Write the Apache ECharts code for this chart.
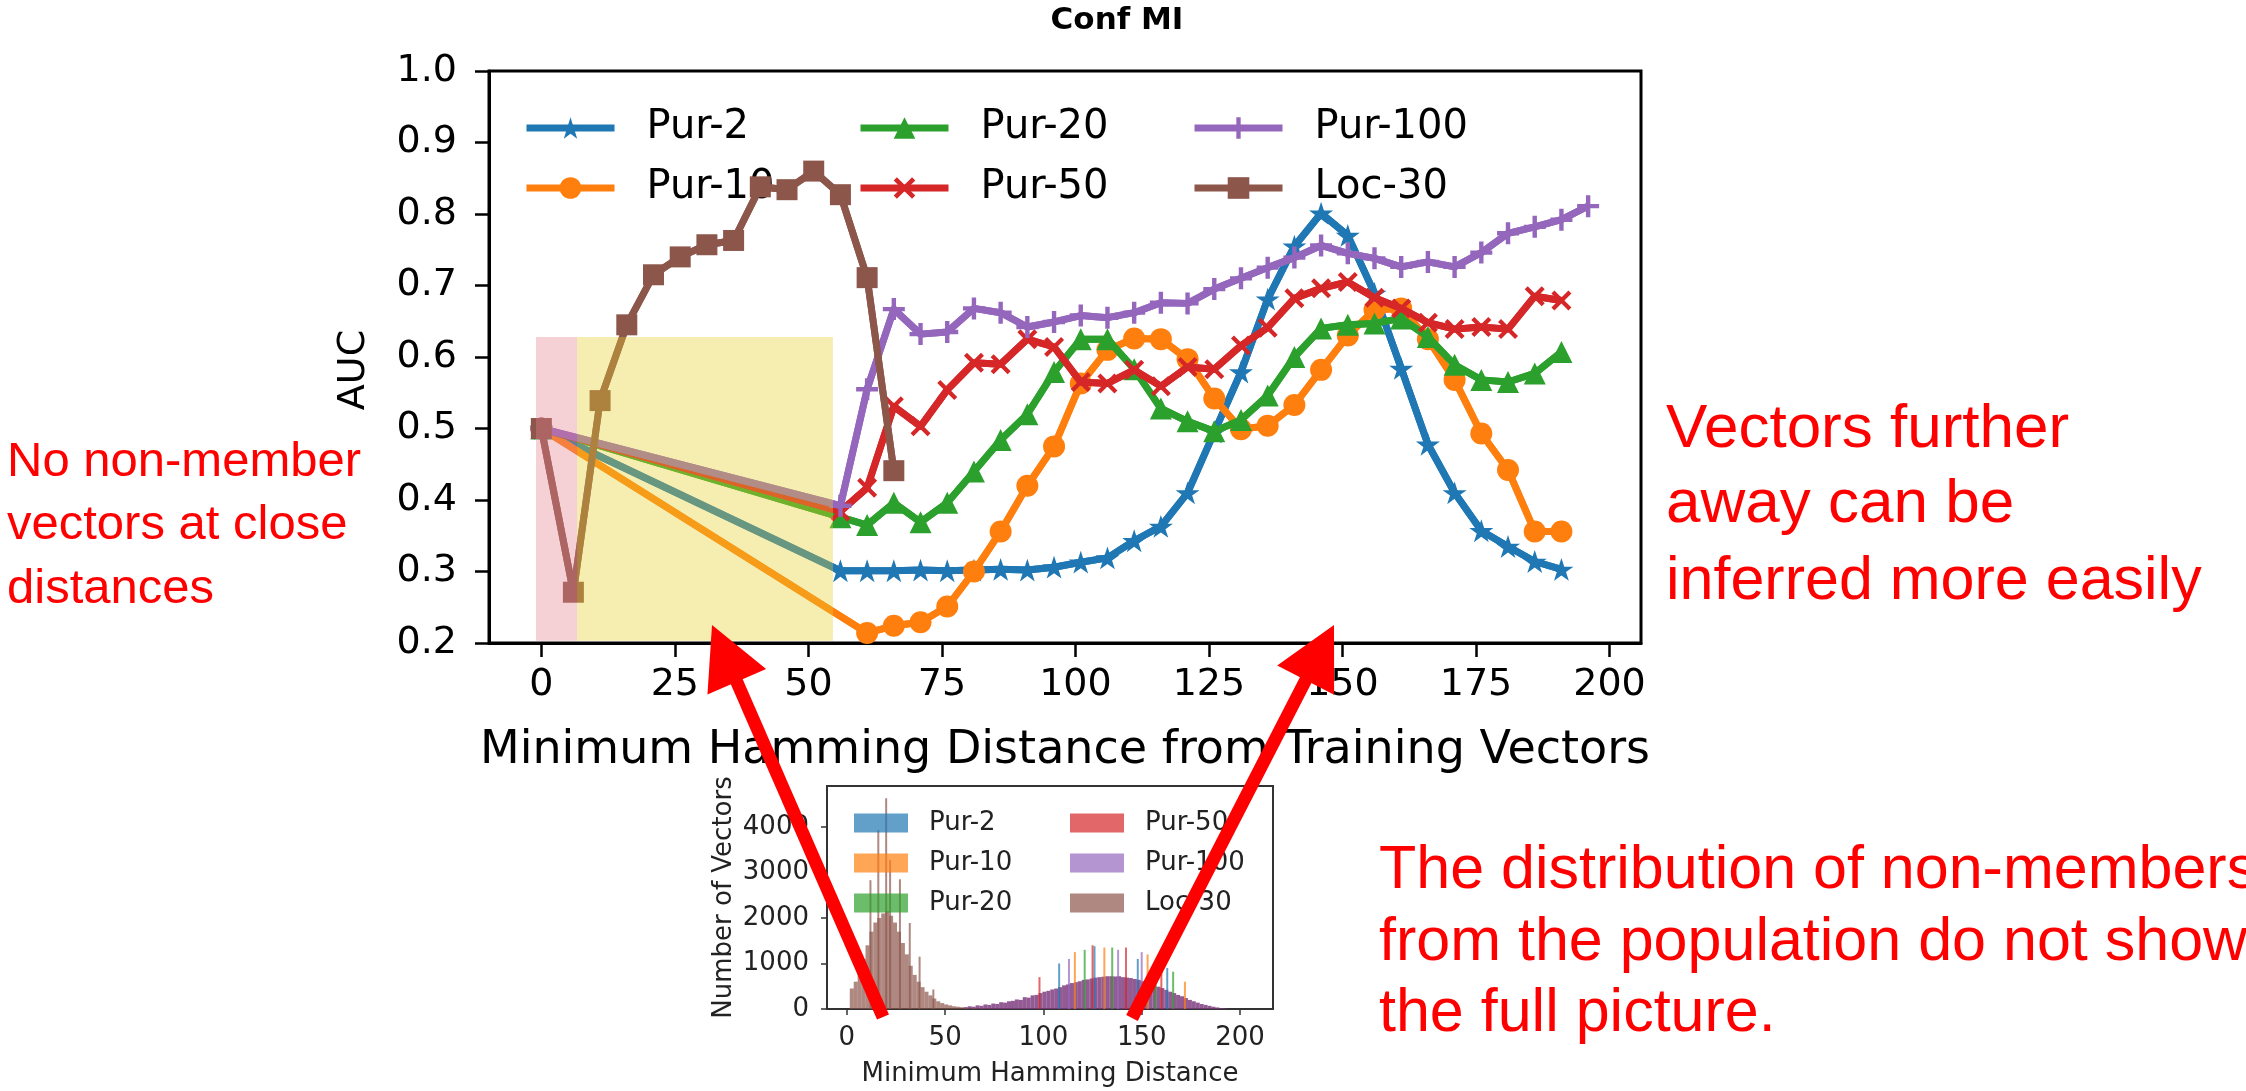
<!DOCTYPE html>
<html><head><meta charset="utf-8">
<script src="https://cdn.jsdelivr.net/npm/echarts@6/dist/echarts.min.js"></script>
<style>html,body{margin:0;padding:0;background:#fff}#c{width:2246px;height:1091px}</style>
</head><body><div id="c"></div>
<script>
// ---------------- main chart data ----------------
const xTickValues = [0, 25, 50, 75, 100, 125, 150, 175, 200];
const yTickValues = [0.2, 0.3, 0.4, 0.5, 0.6, 0.7, 0.8, 0.9, 1.0];

const distPur2 = [0, 56, 61, 66, 71, 76, 81, 86, 91, 96, 101, 106, 111, 116, 121, 126, 131, 136, 141, 146, 151, 156, 161, 166, 171, 176, 181, 186, 191];
const aucPur2 = [0.500, 0.301, 0.301, 0.301, 0.302, 0.301, 0.302, 0.303, 0.302, 0.306, 0.313, 0.319, 0.343, 0.363, 0.410, 0.495, 0.579, 0.681, 0.755, 0.801, 0.770, 0.689, 0.584, 0.478, 0.410, 0.357, 0.335, 0.314, 0.303];

const distPur10 = [0, 61, 66, 71, 76, 81, 86, 91, 96, 101, 106, 111, 116, 121, 126, 131, 136, 141, 146, 151, 156, 161, 166, 171, 176, 181, 186, 191];
const aucPur10 = [0.500, 0.214, 0.224, 0.229, 0.251, 0.300, 0.356, 0.420, 0.475, 0.563, 0.610, 0.626, 0.625, 0.597, 0.542, 0.499, 0.504, 0.533, 0.582, 0.630, 0.666, 0.668, 0.625, 0.568, 0.493, 0.442, 0.356, 0.356];

const distPur20 = [0, 56, 61, 66, 71, 76, 81, 86, 91, 96, 101, 106, 111, 116, 121, 126, 131, 136, 141, 146, 151, 156, 161, 166, 171, 176, 181, 186, 191];
const aucPur20 = [0.500, 0.376, 0.365, 0.396, 0.369, 0.396, 0.440, 0.484, 0.520, 0.579, 0.625, 0.625, 0.583, 0.528, 0.510, 0.496, 0.512, 0.546, 0.600, 0.640, 0.645, 0.647, 0.654, 0.628, 0.589, 0.568, 0.565, 0.577, 0.607];

const distPur50 = [0, 56, 61, 66, 71, 76, 81, 86, 91, 96, 101, 106, 111, 116, 121, 126, 131, 136, 141, 146, 151, 156, 161, 166, 171, 176, 181, 186, 191];
const aucPur50 = [0.500, 0.384, 0.417, 0.531, 0.503, 0.554, 0.592, 0.590, 0.625, 0.614, 0.565, 0.563, 0.582, 0.559, 0.586, 0.583, 0.616, 0.641, 0.682, 0.696, 0.705, 0.683, 0.668, 0.648, 0.639, 0.642, 0.639, 0.685, 0.679];

const distPur100 = [0, 56, 61, 66, 71, 76, 81, 86, 91, 96, 101, 106, 111, 116, 121, 126, 131, 136, 141, 146, 151, 156, 161, 166, 171, 176, 181, 186, 191, 196];
const aucPur100 = [0.500, 0.392, 0.555, 0.667, 0.632, 0.635, 0.668, 0.662, 0.642, 0.649, 0.658, 0.655, 0.662, 0.676, 0.675, 0.695, 0.710, 0.725, 0.739, 0.756, 0.745, 0.738, 0.726, 0.733, 0.726, 0.746, 0.773, 0.782, 0.792, 0.811];

const distLoc30 = [0, 6, 11, 16, 21, 26, 31, 36, 41, 46, 51, 56, 61, 66];
const aucLoc30 = [0.500, 0.271, 0.539, 0.645, 0.715, 0.740, 0.757, 0.763, 0.838, 0.834, 0.860, 0.827, 0.711, 0.441];

// shaded regions (data coordinates)
const regionPinkX = [-1.0, 6.7];
const regionYellowX = [6.7, 54.6];
const regionY = [0.203, 0.628];

// ---------------- inset histogram data ----------------
const histXTicks = [0, 50, 100, 150, 200];
const histYTicks = [0, 1000, 2000, 3000, 4000];

const histLocBins = [2, 4, 6, 8, 10, 12, 14, 16, 18, 20, 22, 24, 26, 28, 30, 32, 34, 36, 38, 40, 42, 44, 46, 48, 50, 52, 54, 56, 58, 60, 64, 68, 72];
const histLocCounts = [450, 600, 800, 1100, 1400, 1700, 1900, 2000, 2100, 2150, 2050, 1900, 1700, 1450, 1200, 950, 750, 600, 480, 380, 300, 230, 170, 130, 100, 80, 60, 50, 40, 30, 20, 15, 10];
const spikeLocBins = [12, 16, 20, 22, 27, 32, 37, 44];
const spikeLocCounts = [2830, 3930, 4630, 3270, 2850, 1890, 1150, 430];

const histPurBins = [60, 62, 64, 66, 68, 70, 72, 74, 76, 78, 80, 82, 84, 86, 88, 90, 92, 94, 96, 98, 100, 102, 104, 106, 108, 110, 112, 114, 116, 118, 120, 122, 124, 126, 128, 130, 132, 134, 136, 138, 140, 142, 144, 146, 148, 150, 152, 154, 156, 158, 160, 162, 164, 166, 168, 170, 172, 174, 176, 178, 180, 182, 184, 186, 188, 190, 192];
const histPurCounts = [40, 60, 50, 80, 70, 100, 90, 120, 110, 150, 140, 170, 180, 210, 200, 260, 250, 300, 310, 350, 380, 400, 430, 450, 480, 520, 540, 570, 590, 610, 640, 650, 670, 690, 700, 710, 720, 720, 715, 720, 700, 690, 680, 660, 640, 610, 590, 560, 520, 490, 460, 420, 380, 350, 310, 280, 240, 200, 170, 140, 110, 90, 70, 50, 35, 20, 10];

const spikePur2Bins = [108, 126, 148, 163];
const spikePur2Counts = [1000, 1380, 1100, 900];
const spikePur10Bins = [116, 131, 153, 172];
const spikePur10Counts = [1250, 1350, 1200, 600];
const spikePur20Bins = [121, 135, 157, 166];
const spikePur20Counts = [1300, 1350, 1050, 820];
const spikePur50Bins = [98, 125, 142, 160];
const spikePur50Counts = [700, 1400, 1350, 950];
const spikePur100Bins = [113, 138, 150];
const spikePur100Counts = [1100, 1300, 1250];

// ---------------- helpers ----------------
const pairs = (xs, ys) => xs.map((x, i) => [x, ys[i]]);
const C = { blue: '#1f77b4', orange: '#ff7f0e', green: '#2ca02c', red: '#d62728', purple: '#9467bd', brown: '#8c564b' };
const FONT = 'DejaVu Sans';
const LINE_W = 7;

const starPath = 'path://M0,-10 L2.245,-3.09 L9.511,-3.09 L3.633,1.18 L5.878,8.09 L0,3.82 L-5.878,8.09 L-3.633,1.18 L-9.511,-3.09 L-2.245,-3.09 Z';
const xPath = 'path://M-10,-7 L-7,-10 L0,-3 L7,-10 L10,-7 L3,0 L10,7 L7,10 L0,3 L-7,10 L-10,7 L-3,0 Z';
const plusPath = 'path://M-2,-10 L2,-10 L2,-2 L10,-2 L10,2 L2,2 L2,10 L-2,10 L-2,2 L-10,2 L-10,-2 L-2,-2 Z';

// line + markers (also provides the legend entry)
function lineSeries(name, xs, ys, color, symbol, size, z) {
  return {
    name: name, type: 'line', xAxisIndex: 0, yAxisIndex: 0,
    data: pairs(xs, ys), symbol: symbol, symbolSize: size, symbolKeepAspect: true,
    showSymbol: true,
    lineStyle: { color: color, width: LINE_W, opacity: 1 },
    itemStyle: { color: color },
    animation: false, z: z
  };
}
// thick connecting polyline, positioned through the axes' scales
function thickLine(name, xs, ys, color, z) {
  return {
    type: 'custom', name: name + ' path', xAxisIndex: 0, yAxisIndex: 0, z: z, silent: true,
    animation: false, clip: true,
    data: [[xs[0], ys[0]]],
    renderItem: function (params, api) {
      return {
        type: 'polyline',
        shape: { points: xs.map((x, i) => api.coord([x, ys[i]])) },
        style: { stroke: color, lineWidth: LINE_W, fill: null, lineJoin: 'round', lineCap: 'butt' }
      };
    }
  };
}
function barSeries(name, xs, ys, color, width, z) {
  return {
    name, type: 'bar', xAxisIndex: 1, yAxisIndex: 1, data: pairs(xs, ys),
    barWidth: width, barGap: '-100%', itemStyle: { color }, animation: false, z: z || 2,
    emphasis: { disabled: true }
  };
}

const mainLegendBase = {
  orient: 'vertical', itemWidth: 88, itemHeight: 27, itemGap: 20, padding: 0,
  lineStyle: { width: LINE_W },
  textStyle: { fontSize: 40, fontFamily: FONT, color: '#000', padding: [0, 0, 0, 27] },
  selectedMode: false
};
const histLegendBase = {
  orient: 'vertical', itemWidth: 54, itemHeight: 19, itemGap: 14, padding: 0, icon: 'rect',
  textStyle: { fontSize: 26, fontFamily: FONT, color: '#222', padding: [0, 0, 0, 16] },
  formatter: n => n.replace(' hist', ''), selectedMode: false
};

const chart = echarts.init(document.getElementById('c'), null, { renderer: 'canvas' });

// arrows (annotation)
function arrow(tail, tip, shaft, headLen, headHalf) {
  const dx = tip[0] - tail[0], dy = tip[1] - tail[1];
  const L = Math.hypot(dx, dy), ux = dx / L, uy = dy / L, nx = -uy, ny = ux;
  const b = [tip[0] - ux * headLen, tip[1] - uy * headLen];
  return [
    { type: 'line', z: 100, shape: { x1: tail[0], y1: tail[1], x2: b[0] + ux * 2, y2: b[1] + uy * 2 }, style: { stroke: '#ff0000', lineWidth: shaft } },
    { type: 'polygon', z: 100, shape: { points: [tip, [b[0] + nx * headHalf, b[1] + ny * headHalf], [b[0] - nx * headHalf, b[1] - ny * headHalf]] }, style: { fill: '#ff0000' } }
  ];
}
function redText(x, y, txt, size) {
  return { type: 'text', z: 100, x, y, style: { text: txt, font: size + 'px "Liberation Sans"', fill: '#ff0000', textAlign: 'left', textVerticalAlign: 'middle', verticalAlign: 'middle' } };
}

const mainDefs = [
  ['Pur-2', distPur2, aucPur2, C.blue, starPath, 24],
  ['Pur-10', distPur10, aucPur10, C.orange, 'circle', 22],
  ['Pur-20', distPur20, aucPur20, C.green, 'triangle', 22],
  ['Pur-50', distPur50, aucPur50, C.red, xPath, 20],
  ['Pur-100', distPur100, aucPur100, C.purple, plusPath, 22],
  ['Loc-30', distLoc30, aucLoc30, C.brown, 'rect', 21]
];
const mainSeries = [];
mainDefs.forEach((d, i) => {
  mainSeries.push(lineSeries(d[0], d[1], d[2], d[3], d[4], d[5], 4 + 2 * i));
  mainSeries.push(thickLine(d[0], d[1], d[2], d[3], 3 + 2 * i));
});

const option = {
  backgroundColor: '#ffffff',
  animation: false,
  grid: [
    { left: 489, top: 71, width: 1152, height: 572, show: true, borderColor: '#000', borderWidth: 3, backgroundColor: 'transparent' },
    { left: 827, top: 786, width: 446, height: 223, show: true, borderColor: '#333', borderWidth: 2, backgroundColor: 'transparent' }
  ],
  xAxis: [
    {
      type: 'value', gridIndex: 0, min: -9.8, max: 205.9,
      name: 'Minimum Hamming Distance from Training Vectors', nameLocation: 'middle', nameGap: 85,
      nameTextStyle: { fontSize: 46, fontFamily: FONT, color: '#000' },
      axisLine: { show: true, onZero: false, lineStyle: { color: '#000', width: 3 } },
      axisTick: { show: true, length: 14, lineStyle: { color: '#000', width: 2.5 }, customValues: xTickValues },
      axisLabel: { fontSize: 38, fontFamily: FONT, color: '#000', margin: 23, customValues: xTickValues },
      splitLine: { show: false }
    },
    {
      type: 'value', gridIndex: 1, min: -10.1, max: 216.8,
      name: 'Minimum Hamming Distance', nameLocation: 'middle', nameGap: 52,
      nameTextStyle: { fontSize: 26, fontFamily: FONT, color: '#222' },
      axisLine: { show: true, onZero: false, lineStyle: { color: '#333', width: 2 } },
      axisTick: { show: true, length: 6, lineStyle: { color: '#333', width: 1.5 }, customValues: histXTicks },
      axisLabel: { fontSize: 26, fontFamily: FONT, color: '#222', margin: 16, customValues: histXTicks },
      splitLine: { show: false }
    }
  ],
  yAxis: [
    {
      type: 'value', gridIndex: 0, min: 0.2, max: 1.0, interval: 0.1,
      name: 'AUC', nameLocation: 'middle', nameGap: 116,
      nameTextStyle: { fontSize: 38, fontFamily: FONT, color: '#000', padding: [0, 26, 0, 0] },
      axisLine: { show: true, onZero: false, lineStyle: { color: '#000', width: 3 } },
      axisTick: { show: true, length: 14, lineStyle: { color: '#000', width: 2.5 } },
      axisLabel: { fontSize: 38, fontFamily: FONT, color: '#000', margin: 32, formatter: v => v.toFixed(1) },
      splitLine: { show: false }
    },
    {
      type: 'value', gridIndex: 1, min: 0, max: 4900,
      name: 'Number of Vectors', nameLocation: 'middle', nameGap: 90,
      nameTextStyle: { fontSize: 26, fontFamily: FONT, color: '#222' },
      axisLine: { show: true, onZero: false, lineStyle: { color: '#333', width: 2 } },
      axisTick: { show: true, length: 6, lineStyle: { color: '#333', width: 1.5 }, customValues: histYTicks },
      axisLabel: { fontSize: 26, fontFamily: FONT, color: '#222', margin: 18, customValues: histYTicks, formatter: v => String(v) },
      splitLine: { show: false }
    }
  ],
  legend: [
    Object.assign({}, mainLegendBase, { left: 523, top: 108, data: ['Pur-2', 'Pur-10'] }),
    Object.assign({}, mainLegendBase, { left: 857, top: 108, data: ['Pur-20', 'Pur-50'] }),
    Object.assign({}, mainLegendBase, { left: 1191, top: 108, data: ['Pur-100', 'Loc-30'] }),
    Object.assign({}, histLegendBase, { left: 854, top: 810, data: ['Pur-2 hist', 'Pur-10 hist', 'Pur-20 hist'] }),
    Object.assign({}, histLegendBase, { left: 1070, top: 810, data: ['Pur-50 hist', 'Pur-100 hist', 'Loc-30 hist'] })
  ],
  series: mainSeries.concat([
    {
      name: 'regions', type: 'line', xAxisIndex: 0, yAxisIndex: 0, data: [], z: 30, silent: true,
      markArea: {
        silent: true, z: 30,
        data: [
          [{ xAxis: regionPinkX[0], yAxis: regionY[0], itemStyle: { color: 'rgba(228,128,141,0.37)' } }, { xAxis: regionPinkX[1], yAxis: regionY[1] }],
          [{ xAxis: regionYellowX[0], yAxis: regionY[0], itemStyle: { color: 'rgba(230,206,44,0.37)' } }, { xAxis: regionYellowX[1], yAxis: regionY[1] }]
        ]
      }
    },
    // inset histogram
    barSeries('Pur-2 hist', spikePur2Bins, spikePur2Counts, 'rgba(31,119,180,0.7)', 2, 4),
    barSeries('Pur-10 hist', spikePur10Bins, spikePur10Counts, 'rgba(255,127,14,0.7)', 2, 4),
    barSeries('Pur-20 hist', spikePur20Bins, spikePur20Counts, 'rgba(44,160,44,0.7)', 2, 4),
    barSeries('Pur-50 hist', spikePur50Bins, spikePur50Counts, 'rgba(214,39,40,0.7)', 2, 4),
    barSeries('Pur-100 hist', spikePur100Bins, spikePur100Counts, 'rgba(148,103,189,0.7)', 2, 4),
    barSeries('Pur-100 hist', histPurBins, histPurCounts, 'rgba(128,62,128,0.85)', 4, 3),
    barSeries('Loc-30 hist', histLocBins, histLocCounts, 'rgba(140,86,75,0.7)', 4, 3),
    barSeries('Loc-30 hist', spikeLocBins, spikeLocCounts, 'rgba(140,86,75,0.7)', 2, 3)
  ]),
  graphic: [
    { type: 'text', z: 100, x: 1117, y: 21, style: { text: 'Conf MI', font: 'bold 31px "DejaVu Sans"', fill: '#000', textAlign: 'center', textVerticalAlign: 'middle', verticalAlign: 'middle' } },
    redText(7, 462, 'No non-member', 49),
    redText(7, 525, 'vectors at close', 49),
    redText(7, 589, 'distances', 49),
    redText(1666, 430, 'Vectors further', 62),
    redText(1666, 505, 'away can be', 62),
    redText(1666, 582, 'inferred more easily', 61),
    redText(1379, 871, 'The distribution of non-members', 61),
    redText(1379, 943, 'from the population do not show', 61),
    redText(1379, 1014, 'the full picture.', 61),
    ...arrow([883, 1017], [712, 625], 13, 62, 32),
    ...arrow([1132, 1018], [1334, 625], 13, 62, 32)
  ]
};
chart.setOption(option);
</script>
</body></html>
